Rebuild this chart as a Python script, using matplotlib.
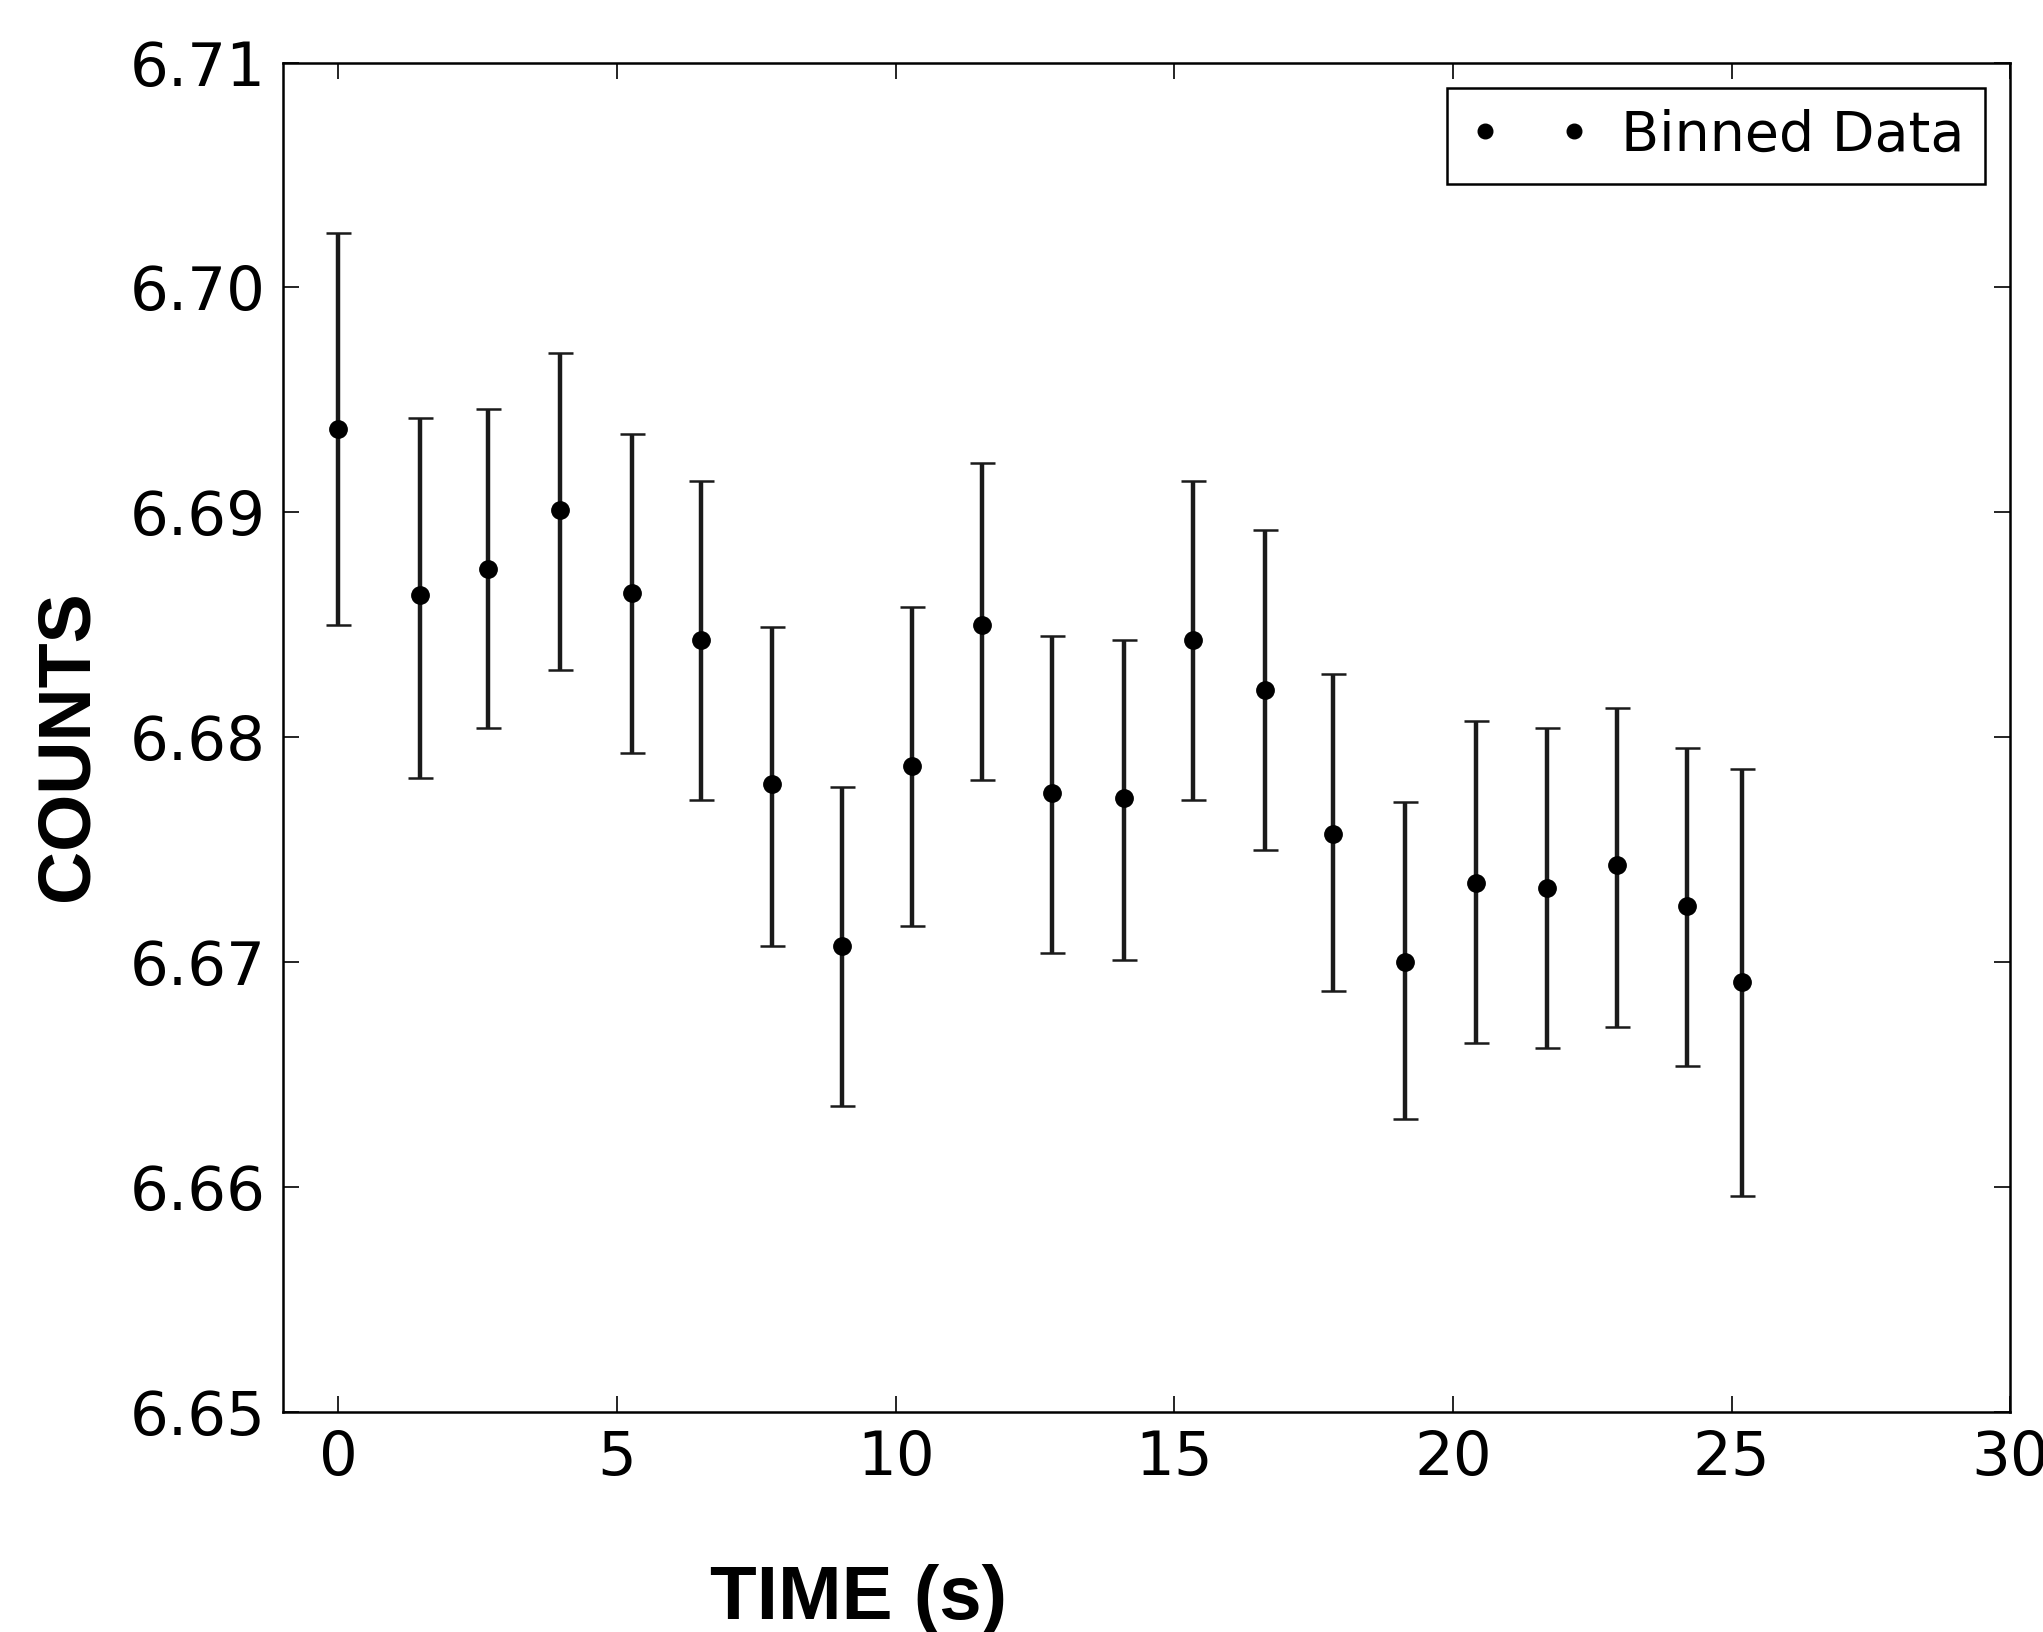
import matplotlib
matplotlib.use('Agg')
import matplotlib.pyplot as plt
from matplotlib.lines import Line2D

# binned data
times = [0.0, 1.47, 2.69, 3.98, 5.27, 6.51, 7.78, 9.04, 10.30, 11.55, 12.81,
         14.10, 15.34, 16.63, 17.85, 19.13, 20.42, 21.69, 22.95, 24.19, 25.18]
counts = [6.6937, 6.6863, 6.6875, 6.6901, 6.6864, 6.6843, 6.6779, 6.6707,
          6.6787, 6.6850, 6.6775, 6.6773, 6.6843, 6.6821, 6.6757, 6.6700,
          6.6735, 6.6733, 6.6743, 6.6725, 6.6691]
err_hi = [6.7024, 6.6942, 6.6946, 6.6971, 6.6935, 6.6914, 6.6849, 6.6778,
          6.6858, 6.6922, 6.6845, 6.6843, 6.6914, 6.6892, 6.6828, 6.6771,
          6.6807, 6.6804, 6.6813, 6.6795, 6.6786]
err_lo = [6.6850, 6.6782, 6.6804, 6.6830, 6.6793, 6.6772, 6.6707, 6.6636,
          6.6716, 6.6781, 6.6704, 6.6701, 6.6772, 6.6750, 6.6687, 6.6630,
          6.6664, 6.6662, 6.6671, 6.6654, 6.6596]
xticks = [0, 5, 10, 15, 20, 25, 30]
yticks = [6.65, 6.66, 6.67, 6.68, 6.69, 6.70, 6.71]

lower = [c - lo for c, lo in zip(counts, err_lo)]
upper = [hi - c for c, hi in zip(counts, err_hi)]

fig = plt.figure(figsize=(20.43, 16.32), dpi=100)
ax = fig.add_axes([0.1384, 0.1349, 0.8456, 0.8268])

ax.errorbar(times, counts, yerr=[lower, upper], fmt='o', color='black',
            ecolor='#1a1a1a', elinewidth=3.2, capsize=9, capthick=1.8,
            markersize=12.5)

ax.set_xlim(-1, 30)
ax.set_ylim(6.65, 6.71)
ax.set_xticks(xticks)
ax.set_yticks(yticks)
ax.set_yticklabels(['%.2f' % v for v in yticks])
ax.tick_params(axis='both', which='major', direction='in', length=11.5,
               width=1.2, top=True, right=True, labelsize=44, pad=12)
for s in ax.spines.values():
    s.set_linewidth(1.8)

ax.set_xlabel('TIME (s)', fontsize=55, fontweight='bold',
              family='Liberation Sans')
ax.xaxis.set_label_coords(0.333, -0.113)
fig.text(0.0335, 0.543, 'COUNTS', fontsize=53, fontweight='bold',
         family='Liberation Sans', rotation=90, ha='center', va='center')

handle = Line2D([], [], marker='o', ls='none', color='black', markersize=10.5)
leg = ax.legend([handle], ['Binned Data'], loc='upper right', numpoints=2,
                fontsize=40, fancybox=False, framealpha=1, edgecolor='black',
                borderaxespad=0.45, handletextpad=0.55, handlelength=2.2,
                borderpad=0.38)
leg.get_frame().set_linewidth(1.8)

plt.savefig('out.png', dpi=100)
